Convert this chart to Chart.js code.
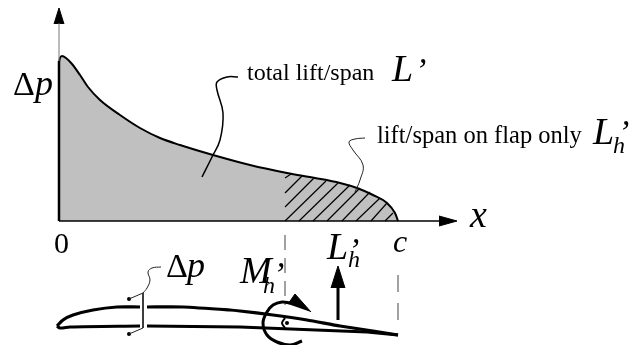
<!DOCTYPE html>
<html lang="en">
<head>
  <meta charset="UTF-8">
  <title>Lift on a flap</title>
  <script src="https://cdn.jsdelivr.net/npm/chart.js"></script>
  <style>
    html, body { margin: 0; padding: 0; background: #fff; }
    canvas { display: block; }
  </style>
</head>
<body>
  <canvas id="liftChart" width="630" height="345"></canvas>

  <script>
    // units: x runs from the leading edge (chord c = 340), y is height above the x axis
    const pressureCurve = [[1,0],[1,159],[2,163],[4,165],[8,163],[14,157],[22,146],[30,134],[42,121],[62,106],[82,93],[102,83],[122,76],[155,66],[192,56],[229,48],[257,43],[282,38],[299,33],[315,26],[329,18],[337,8],[340,0]];
    const yAxisThick = [[1,0],[1,160]];
    const yAxisThin = [[1,160],[1,198]];
    const yArrow = [[-4,197],[1,213],[6,197]];
    const xAxisLine = [[1,0],[381,0]];
    const xArrow = [[381,5],[399,0],[381,-5]];
    const hatchLines = [
      [[227,43],[233,47]], [[227,28],[244,45]], [[227,14],[256,43]], [[227,0],[268,40]],
      [[241,0],[280,38]], [[255,0],[292,36]], [[269,0],[302,33]], [[284,0],[312,29]],
      [[298,0],[322,23]], [[313,0],[329,18]], [[327,0],[335,8]]
    ];
    const totalLeader = [[180,144],[169,144],[159,139],[159,131],[165,108],[162,81],[154,64],[144,44]];
    const flapLeader = [[307,83],[297,82],[291,79],[295,71],[305,56],[302,41],[297,29]];
    const upperFront = [[-1,-105],[5,-99],[15,-94],[35,-89],[59,-86],[82,-86]];
    const upperRear = [[89,-86],[125,-86],[172,-89],[182,-90],[215,-94],[249,-99],[282,-105],[315,-110],[340,-114]];
    const lowerFront = [[-1,-105],[2,-107],[12,-106],[82,-105]];
    const lowerRear = [[89,-105],[182,-106],[309,-111],[340,-114]];
    const dpLeader = [[103,-46],[94,-47],[90,-51],[92,-59],[89,-67],[85,-72]];
    const dpBracket = [[71,-78],[85,-72],[85,-107],[71,-113]];
    const dpDots = [[71,-78],[71,-113]];
    const hingeDashed = [[227,-14],[227,-84]];
    const chordDashed = [[340,-54],[340,-99]];
    const liftShaft = [[280,-99],[280,-66]];
    const liftArrow = [[273,-67],[280,-45],[287,-67]];
    const momentArc = [[232,-82],[224,-81],[215,-84],[209,-91],[205,-102],[209,-114],[219,-121],[232,-124],[244,-120]];
    const momentArrow = [[230,-83],[237,-73],[253,-91]];
    const hingeRing = [[227,-97],[224,-102],[227,-107]];
    const hingeDot = [[229,-102]];
    const xTickLabels = ['0', 'c'];

    const serif = '"Liberation Serif", serif';
    const toPoints = list => list.map(p => ({ x: p[0], y: p[1] }));

    function stroke(points, width, color, extra) {
      return Object.assign({ data: toPoints(points), borderColor: color || '#000', borderWidth: width, pointRadius: 0, fill: false, tension: 0 }, extra);
    }
    function solid(points) {
      return { data: toPoints(points), borderColor: '#000', borderWidth: 1, backgroundColor: '#000', pointRadius: 0, fill: 'shape', tension: 0 };
    }
    function dots(points, r) {
      return { data: toPoints(points), showLine: false, pointRadius: r, pointBackgroundColor: '#000', pointBorderWidth: 0 };
    }

    const datasets = [
      stroke(yAxisThin, 1, '#777'),
      solid(yArrow),
      stroke(xAxisLine, 1.5),
      solid(xArrow),
      stroke(totalLeader, 1.5, '#000', { tension: 0.4 }),
      stroke(flapLeader, 1, '#222', { tension: 0.4 }),
      stroke(upperFront, 3.2, '#000', { tension: 0.3 }),
      stroke(upperRear, 3.2, '#000', { tension: 0.2 }),
      stroke(lowerFront, 3.2, '#000', { tension: 0.3 }),
      stroke(lowerRear, 3.2),
      stroke(dpLeader, 1, '#222', { tension: 0.4 }),
      stroke(dpBracket, 1, '#222'),
      dots(dpDots, 2),
      stroke(hingeDashed, 1, '#444', { borderDash: [15, 8] }),
      stroke(chordDashed, 1, '#444', { borderDash: [17, 11] }),
      stroke(liftShaft, 3),
      solid(liftArrow),
      stroke(momentArc, 3, '#000', { tension: 0.4 }),
      solid(momentArrow),
      stroke(hingeRing, 2, '#000', { tension: 0.4 }),
      dots(hingeDot, 2)
    ].concat(
      hatchLines.map(l => stroke(l, 1.2)),
      [
        stroke(yAxisThick, 2.5),
        // drawn first because Chart.js paints the last dataset at the bottom
        { data: toPoints(pressureCurve), borderColor: '#000', borderWidth: 2, backgroundColor: '#c0c0c0', pointRadius: 0, fill: 'origin', cubicInterpolationMode: 'monotone' }
      ]
    );

    // text labels, placed through the chart scales
    const labelPlugin = {
      id: 'labels',
      afterDatasetsDraw(chart) {
        const c = chart.ctx, sx = chart.scales.x, sy = chart.scales.y;
        const put = (str, x, y, font) => {
          c.font = font + ' ' + serif;
          c.fillText(str, sx.getPixelForValue(x), sy.getPixelForValue(y));
        };
        c.save();
        c.fillStyle = '#000';
        c.textBaseline = 'alphabetic';

        put('\u0394', -45, 126, '34px');
        put('p', -23, 126, 'italic 36px');
        put(xTickLabels[0], -4, -32, '30px');
        put(xTickLabels[1], 335, -31, 'italic 32px');
        put('x', 412, -6, 'italic 38px');

        put('total lift/span', 189, 141, '24px');
        put('L', 334, 140, 'italic 38px');
        put('\u2019', 357, 140, 'italic 34px');

        put('lift/span on flap only', 319, 78, '24.5px');
        put('L', 535, 77, 'italic 38px');
        put('\u2019', 560, 78, 'italic 34px');
        put('h', 555, 68, 'italic 24px');

        put('L', 269, -38, 'italic 38px');
        put('\u2019', 290, -40, 'italic 34px');
        put('h', 290, -46, 'italic 24px');

        put('M', 182, -62, 'italic 38px');
        put('\u2019', 215, -64, 'italic 34px');
        put('h', 205, -72, 'italic 24px');

        put('\u0394', 108, -56, '34px');
        put('p', 129, -56, 'italic 36px');
        c.restore();
      }
    };

    new Chart(document.getElementById('liftChart'), {
      type: 'line',
      data: { datasets: datasets },
      options: {
        responsive: false,
        animation: false,
        parsing: false,
        layout: { padding: 0, autoPadding: false },
        plugins: { legend: { display: false }, tooltip: { enabled: false } },
        scales: {
          x: { type: 'linear', display: false, min: -58, max: 572 },
          y: { type: 'linear', display: false, min: -124, max: 221 }
        }
      },
      plugins: [labelPlugin]
    });
  </script>
</body>
</html>
